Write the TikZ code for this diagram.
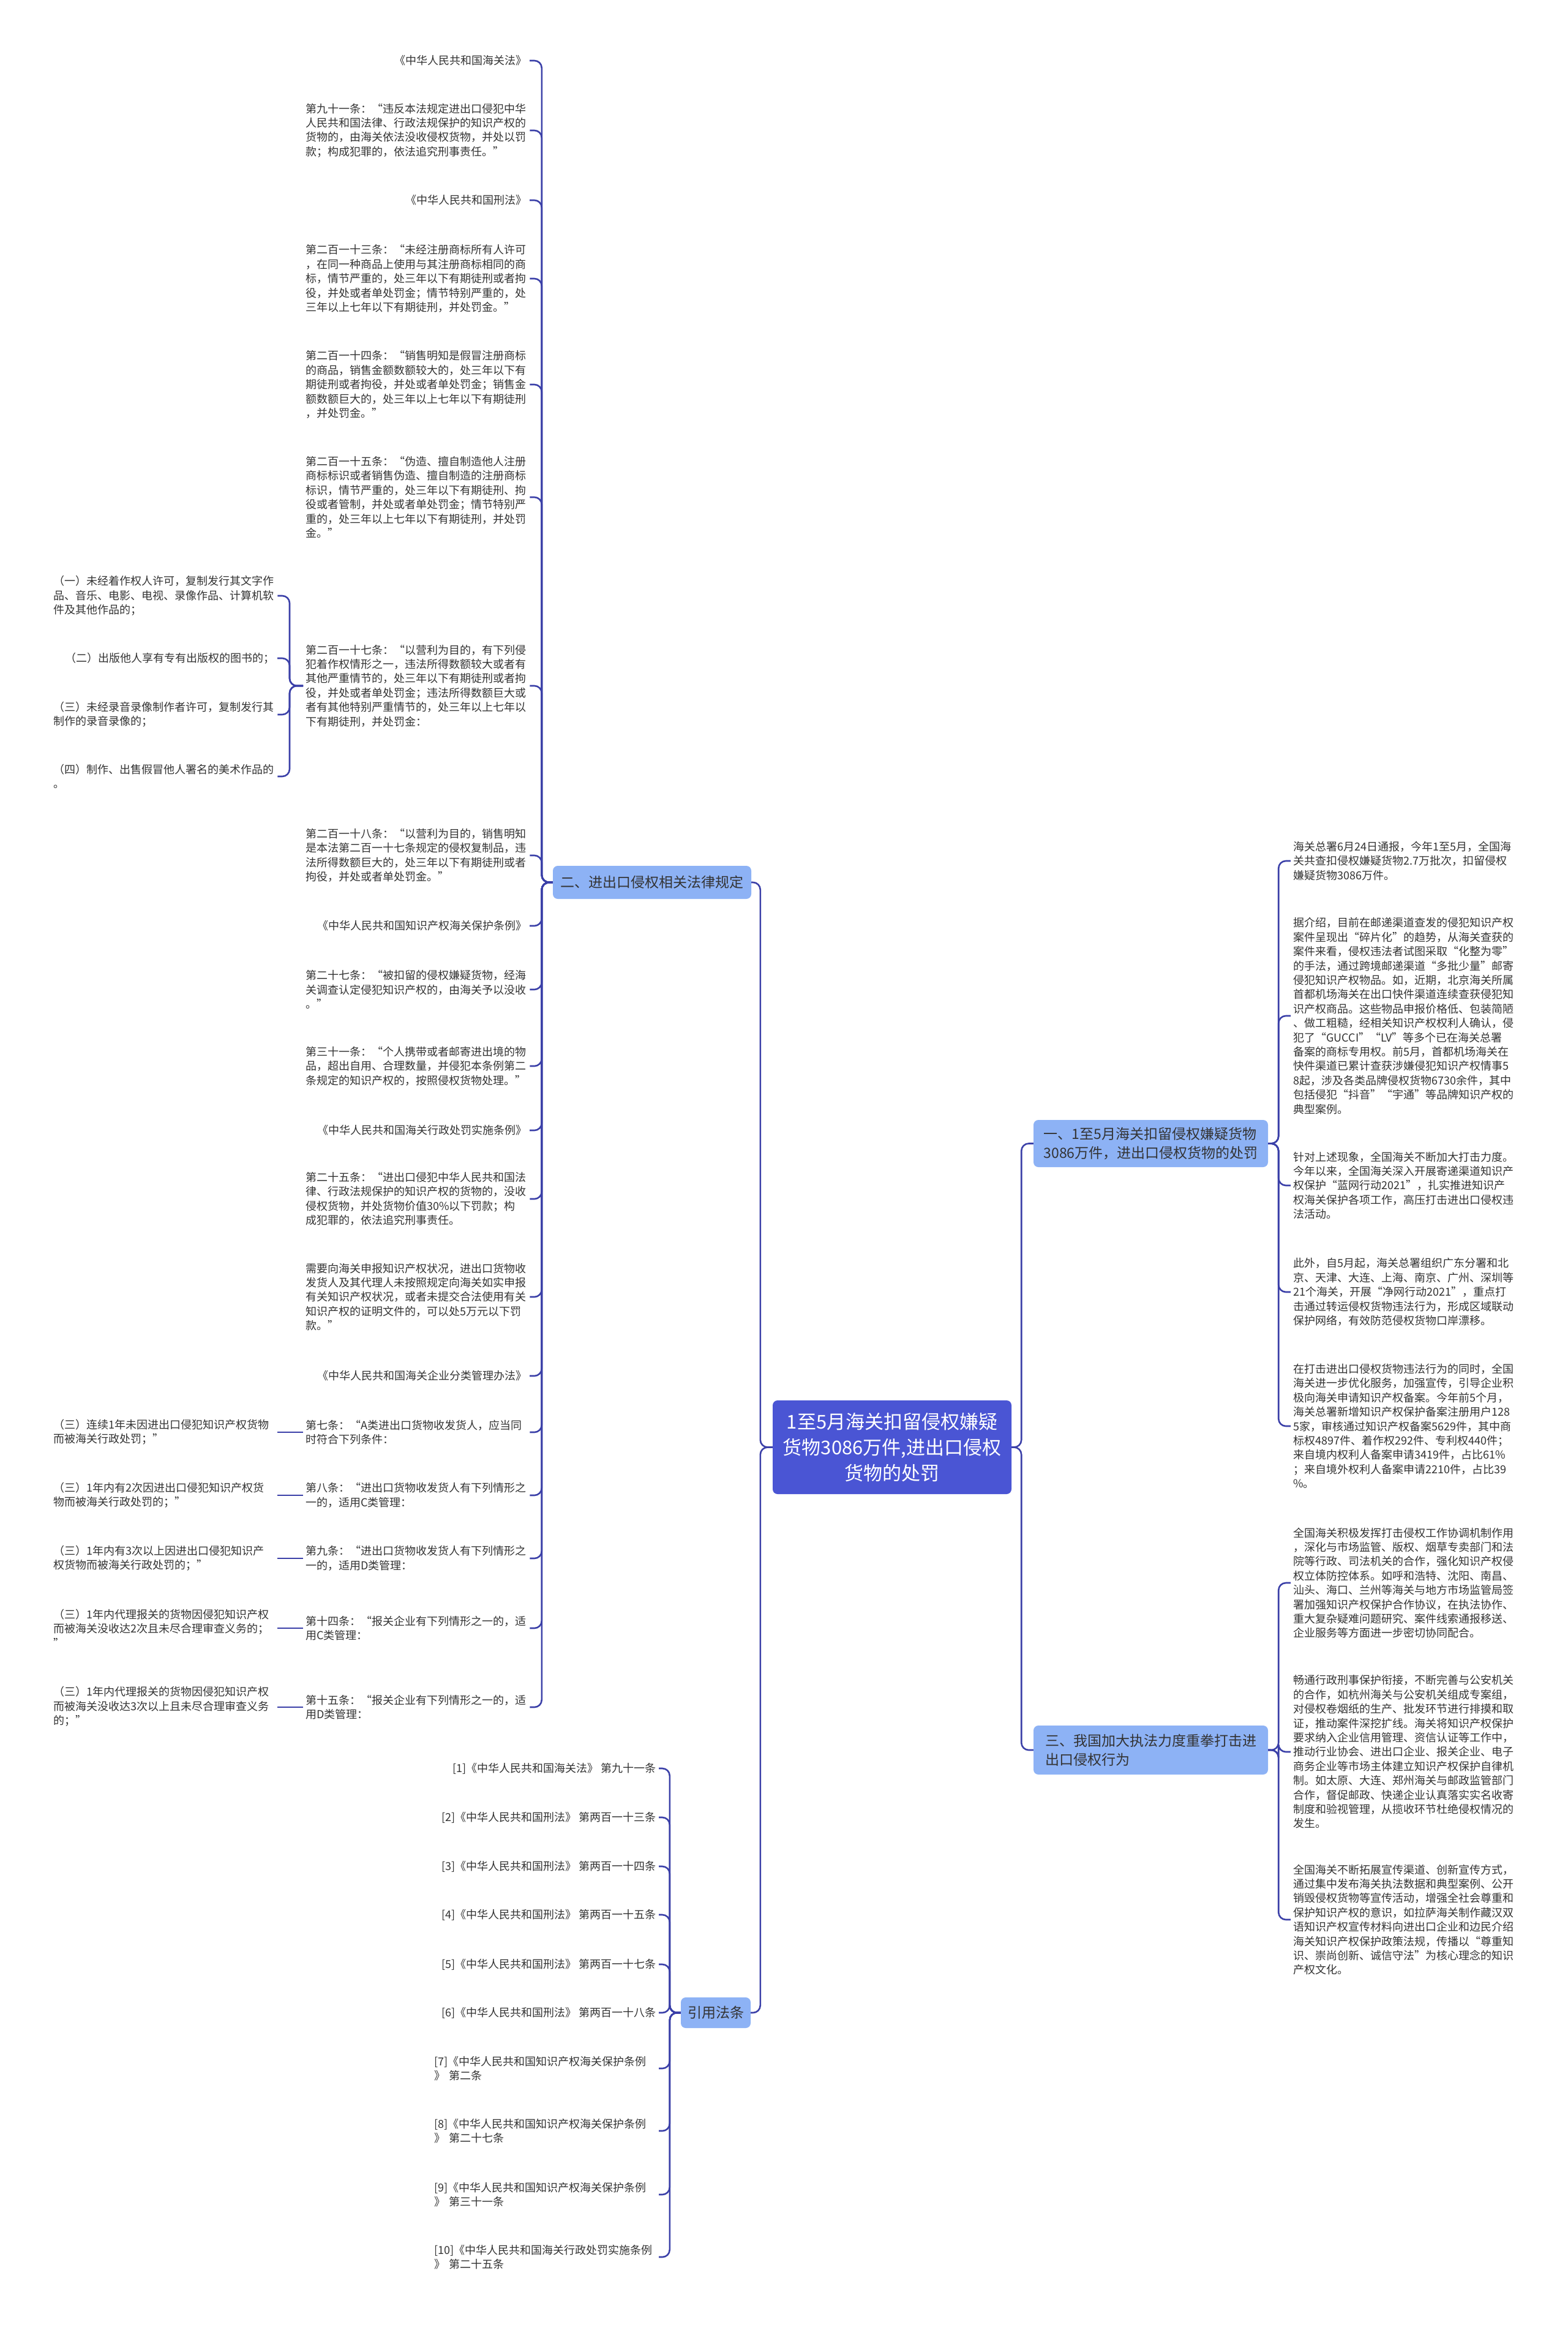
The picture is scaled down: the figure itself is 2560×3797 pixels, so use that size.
\documentclass[tikz,border=0pt]{standalone}
\usepackage{fontspec}
\setmainfont{Noto Sans CJK SC}
\usetikzlibrary{calc}
\definecolor{linec}{HTML}{3B40A8}
\definecolor{rootc}{HTML}{4A55D4}
\definecolor{branchc}{HTML}{8DB2F5}
\definecolor{txt}{HTML}{333333}
\tikzset{
  conn/.style={draw=linec, line width=2.6pt, rounded corners=12pt},
  tb/.style={font=\fontsize{18}{23.4}\selectfont, text=txt, align=left, inner xsep=4pt, inner ysep=2pt},
  tbw/.style={tb, text width=362pt},
  rootbox/.style={fill=rootc, rounded corners=8pt, text=white, align=center, inner sep=0pt,
    font=\fontsize{31}{42}\selectfont},
  branch/.style={fill=branchc, rounded corners=8pt, text=txt, inner sep=0pt,
    font=\fontsize{23}{31}\selectfont}
}
\begin{document}
\begin{tikzpicture}[x=1pt,y=-1pt]
\fill[white] (0,0) rectangle (2560,3797);
\useasboundingbox (0,0) rectangle (2560,3797);

% root and branches
\node[rootbox, minimum width=390pt, minimum height=153pt] (root) at (1457,2363.5)
  {1至5月海关扣留侵权嫌疑\\货物3086万件,进出口侵权\\货物的处罚};
\node[branch, minimum width=324pt, minimum height=54pt] (b2) at (1065,1441) {二、进出口侵权相关法律规定};
\node[branch, minimum width=114pt, minimum height=50pt] (cite) at (1169,3287) {引用法条};
\node[branch, minimum width=383pt, minimum height=77pt, align=left] (b1) at (1879.5,1867.5)
  {一、1至5月海关扣留侵权嫌疑货物\\3086万件，进出口侵权货物的处罚};
\node[branch, minimum width=383pt, minimum height=80pt, align=left] (b3) at (1879.5,2858)
  {三、我国加大执法力度重拳打击进\\出口侵权行为};

% left column (children of b2)
\node[tb, anchor=east] (n1) at (865,99) {《中华人民共和国海关法》};
\node[tbw, anchor=west] (n2) at (495,213) {第九十一条：“违反本法规定进出口侵犯中华\\人民共和国法律、行政法规保护的知识产权的\\货物的，由海关依法没收侵权货物，并处以罚\\款；构成犯罪的，依法追究刑事责任。”};
\node[tb, anchor=east] (n3) at (865,327) {《中华人民共和国刑法》};
\node[tbw, anchor=west] (n4) at (495,455) {第二百一十三条：“未经注册商标所有人许可\\，在同一种商品上使用与其注册商标相同的商\\标，情节严重的，处三年以下有期徒刑或者拘\\役，并处或者单处罚金；情节特别严重的，处\\三年以上七年以下有期徒刑，并处罚金。”};
\node[tbw, anchor=west] (n5) at (495,628) {第二百一十四条：“销售明知是假冒注册商标\\的商品，销售金额数额较大的，处三年以下有\\期徒刑或者拘役，并处或者单处罚金；销售金\\额数额巨大的，处三年以上七年以下有期徒刑\\，并处罚金。”};
\node[tbw, anchor=west] (n6) at (495,812) {第二百一十五条：“伪造、擅自制造他人注册\\商标标识或者销售伪造、擅自制造的注册商标\\标识，情节严重的，处三年以下有期徒刑、拘\\役或者管制，并处或者单处罚金；情节特别严\\重的，处三年以上七年以下有期徒刑，并处罚\\金。”};
\node[tbw, anchor=west] (n7) at (495,1120) {第二百一十七条：“以营利为目的，有下列侵\\犯着作权情形之一，违法所得数额较大或者有\\其他严重情节的，处三年以下有期徒刑或者拘\\役，并处或者单处罚金；违法所得数额巨大或\\者有其他特别严重情节的，处三年以上七年以\\下有期徒刑，并处罚金：};
\node[tbw, anchor=west] (n8) at (495,1397) {第二百一十八条：“以营利为目的，销售明知\\是本法第二百一十七条规定的侵权复制品，违\\法所得数额巨大的，处三年以下有期徒刑或者\\拘役，并处或者单处罚金。”};
\node[tb, anchor=east] (n9) at (865,1512) {《中华人民共和国知识产权海关保护条例》};
\node[tbw, anchor=west] (n10) at (495,1616) {第二十七条：“被扣留的侵权嫌疑货物，经海\\关调查认定侵犯知识产权的，由海关予以没收\\。”};
\node[tbw, anchor=west] (n11) at (495,1741) {第三十一条：“个人携带或者邮寄进出境的物\\品，超出自用、合理数量，并侵犯本条例第二\\条规定的知识产权的，按照侵权货物处理。”};
\node[tb, anchor=east] (n12) at (865,1846) {《中华人民共和国海关行政处罚实施条例》};
\node[tbw, anchor=west] (n13) at (495,1958) {第二十五条：“进出口侵犯中华人民共和国法\\律、行政法规保护的知识产权的货物的，没收\\侵权货物，并处货物价值30\%以下罚款；构\\成犯罪的，依法追究刑事责任。};
\node[tbw, anchor=west] (n14) at (495,2118) {需要向海关申报知识产权状况，进出口货物收\\发货人及其代理人未按照规定向海关如实申报\\有关知识产权状况，或者未提交合法使用有关\\知识产权的证明文件的，可以处5万元以下罚\\款。”};
\node[tb, anchor=east] (n15) at (865,2247) {《中华人民共和国海关企业分类管理办法》};
\node[tbw, anchor=west] (n16) at (495,2339) {第七条：“A类进出口货物收发货人，应当同\\时符合下列条件：};
\node[tbw, anchor=west] (n17) at (495,2442) {第八条：“进出口货物收发货人有下列情形之\\一的，适用C类管理：};
\node[tbw, anchor=west] (n18) at (495,2545) {第九条：“进出口货物收发货人有下列情形之\\一的，适用D类管理：};
\node[tbw, anchor=west] (n19) at (495,2659) {第十四条：“报关企业有下列情形之一的，适\\用C类管理：};
\node[tbw, anchor=west] (n20) at (495,2788) {第十五条：“报关企业有下列情形之一的，适\\用D类管理：};

% far left
\node[tbw, anchor=west] (f1) at (83,973) {（一）未经着作权人许可，复制发行其文字作\\品、音乐、电影、电视、录像作品、计算机软\\件及其他作品的；};
\node[tb, anchor=east] (f2) at (453,1075) {（二）出版他人享有专有出版权的图书的；};
\node[tbw, anchor=west] (f3) at (83,1167) {（三）未经录音录像制作者许可，复制发行其\\制作的录音录像的；};
\node[tbw, anchor=west] (f4) at (83,1268) {（四）制作、出售假冒他人署名的美术作品的\\。};
\node[tbw, anchor=west] (g1) at (83,2339) {（三）连续1年未因进出口侵犯知识产权货物\\而被海关行政处罚；”};
\node[tbw, anchor=west] (g2) at (83,2442) {（三）1年内有2次因进出口侵犯知识产权货\\物而被海关行政处罚的；”};
\node[tbw, anchor=west] (g3) at (83,2545) {（三）1年内有3次以上因进出口侵犯知识产\\权货物而被海关行政处罚的；”};
\node[tbw, anchor=west] (g4) at (83,2659) {（三）1年内代理报关的货物因侵犯知识产权\\而被海关没收达2次且未尽合理审查义务的；\\”};
\node[tbw, anchor=west] (g5) at (83,2787) {（三）1年内代理报关的货物因侵犯知识产权\\而被海关没收达3次以上且未尽合理审查义务\\的；”};

% citations
\node[tb, anchor=east] (c1) at (1076,2888) {[1]《中华人民共和国海关法》 第九十一条};
\node[tb, anchor=east] (c2) at (1076,2968) {[2]《中华人民共和国刑法》 第两百一十三条};
\node[tb, anchor=east] (c3) at (1076,3048) {[3]《中华人民共和国刑法》 第两百一十四条};
\node[tb, anchor=east] (c4) at (1076,3127) {[4]《中华人民共和国刑法》 第两百一十五条};
\node[tb, anchor=east] (c5) at (1076,3208) {[5]《中华人民共和国刑法》 第两百一十七条};
\node[tb, anchor=east] (c6) at (1076,3287) {[6]《中华人民共和国刑法》 第两百一十八条};
\node[tbw, anchor=east] (c7) at (1076,3378) {[7]《中华人民共和国知识产权海关保护条例\\》 第二条};
\node[tbw, anchor=east] (c8) at (1076,3480) {[8]《中华人民共和国知识产权海关保护条例\\》 第二十七条};
\node[tbw, anchor=east] (c9) at (1076,3584) {[9]《中华人民共和国知识产权海关保护条例\\》 第三十一条};
\node[tbw, anchor=east] (c10) at (1076,3686) {[10]《中华人民共和国海关行政处罚实施条例\\》 第二十五条};

% right column
\node[tbw, anchor=west] (r1) at (2108,1406) {海关总署6月24日通报，今年1至5月，全国海\\关共查扣侵权嫌疑货物2.7万批次，扣留侵权\\嫌疑货物3086万件。};
\node[tbw, anchor=west] (r2) at (2108,1659) {据介绍，目前在邮递渠道查发的侵犯知识产权\\案件呈现出“碎片化”的趋势，从海关查获的\\案件来看，侵权违法者试图采取“化整为零”\\的手法，通过跨境邮递渠道“多批少量”邮寄\\侵犯知识产权物品。如，近期，北京海关所属\\首都机场海关在出口快件渠道连续查获侵犯知\\识产权商品。这些物品申报价格低、包装简陋\\、做工粗糙，经相关知识产权权利人确认，侵\\犯了“GUCCI”“LV”等多个已在海关总署\\备案的商标专用权。前5月，首都机场海关在\\快件渠道已累计查获涉嫌侵犯知识产权情事5\\8起，涉及各类品牌侵权货物6730余件，其中\\包括侵犯“抖音”“宇通”等品牌知识产权的\\典型案例。};
\node[tbw, anchor=west] (r3) at (2108,1936) {针对上述现象，全国海关不断加大打击力度。\\今年以来，全国海关深入开展寄递渠道知识产\\权保护“蓝网行动2021”，扎实推进知识产\\权海关保护各项工作，高压打击进出口侵权违\\法活动。};
\node[tbw, anchor=west] (r4) at (2108,2110) {此外，自5月起，海关总署组织广东分署和北\\京、天津、大连、上海、南京、广州、深圳等\\21个海关，开展“净网行动2021”，重点打\\击通过转运侵权货物违法行为，形成区域联动\\保护网络，有效防范侵权货物口岸漂移。};
\node[tbw, anchor=west] (r5) at (2108,2329) {在打击进出口侵权货物违法行为的同时，全国\\海关进一步优化服务，加强宣传，引导企业积\\极向海关申请知识产权备案。今年前5个月，\\海关总署新增知识产权保护备案注册用户128\\5家，审核通过知识产权备案5629件，其中商\\标权4897件、着作权292件、专利权440件；\\来自境内权利人备案申请3419件，占比61\%\\；来自境外权利人备案申请2210件，占比39\\\%。};
\node[tbw, anchor=west] (s1) at (2108,2585) {全国海关积极发挥打击侵权工作协调机制作用\\，深化与市场监管、版权、烟草专卖部门和法\\院等行政、司法机关的合作，强化知识产权侵\\权立体防控体系。如呼和浩特、沈阳、南昌、\\汕头、海口、兰州等海关与地方市场监管局签\\署加强知识产权保护合作协议，在执法协作、\\重大复杂疑难问题研究、案件线索通报移送、\\企业服务等方面进一步密切协同配合。};
\node[tbw, anchor=west] (s2) at (2108,2861) {畅通行政刑事保护衔接，不断完善与公安机关\\的合作，如杭州海关与公安机关组成专案组，\\对侵权卷烟纸的生产、批发环节进行排摸和取\\证，推动案件深挖扩线。海关将知识产权保护\\要求纳入企业信用管理、资信认证等工作中，\\推动行业协会、进出口企业、报关企业、电子\\商务企业等市场主体建立知识产权保护自律机\\制。如太原、大连、郑州海关与邮政监管部门\\合作，督促邮政、快递企业认真落实实名收寄\\制度和验视管理，从揽收环节杜绝侵权情况的\\发生。};
\node[tbw, anchor=west] (s3) at (2108,3135) {全国海关不断拓展宣传渠道、创新宣传方式，\\通过集中发布海关执法数据和典型案例、公开\\销毁侵权货物等宣传活动，增强全社会尊重和\\保护知识产权的意识，如拉萨海关制作藏汉双\\语知识产权宣传材料向进出口企业和边民介绍\\海关知识产权保护政策法规，传播以“尊重知\\识、崇尚创新、诚信守法”为核心理念的知识\\产权文化。};

% connectors
\foreach \c in {b2,cite} \draw[conn] (root.west) -- ++(-20,0) |- (\c.east);
\foreach \c in {b1,b3} \draw[conn] (root.east) -- ++(16,0) |- (\c.west);
\foreach \c in {n1,n2,n3,n4,n5,n6,n7,n8,n9,n10,n11,n12,n13,n14,n15,n16,n17,n18,n19,n20}
  \draw[conn] (b2.west) -- ++(-18,0) |- (\c.east);
\foreach \c in {f1,f2,f3,f4} \draw[conn] (n7.west) -- ++(-22,0) |- (\c.east);
\foreach \p/\c in {n16/g1,n17/g2,n18/g3,n19/g4,n20/g5} \draw[conn] (\p.west) -- (\p.west -| \c.east);
\foreach \c in {c1,c2,c3,c4,c5,c6,c7,c8,c9,c10} \draw[conn] (cite.west) -- ++(-18,0) |- (\c.east);
\foreach \c in {r1,r2,r3,r4,r5} \draw[conn] (b1.east) -- ++(17,0) |- (\c.west);
\foreach \c in {s1,s2,s3} \draw[conn] (b3.east) -- ++(17,0) |- (\c.west);
\end{tikzpicture}
\end{document}
